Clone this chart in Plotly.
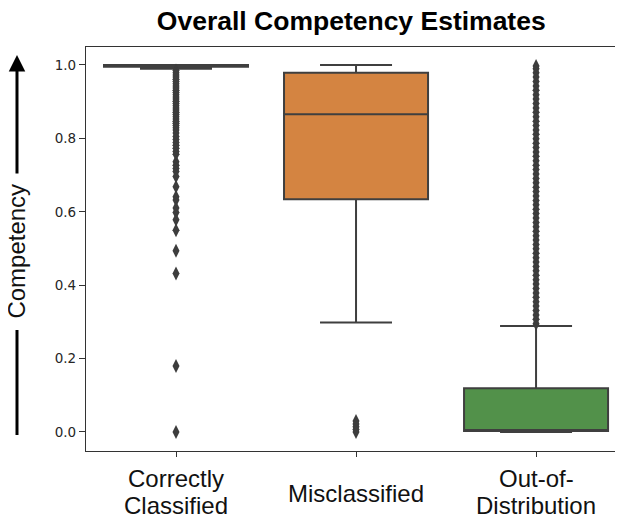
import plotly.graph_objects as go

# ---------------- data ----------------
categories = ["Correctly Classified", "Misclassified", "Out-of-Distribution"]
tick_labels = ["Correctly<br>Classified", "Misclassified", "Out-of-<br>Distribution"]

q1 = [0.995, 0.634, 0.003]
median = [1.0, 0.866, 0.005]
q3 = [1.0, 0.979, 0.119]
lower_whisker = [0.99, 0.298, 0.0]
upper_whisker = [1.0, 1.0, 0.289]

box_colors = ["#3274A1", "#D48441", "#52914A"]

outliers_correct = [0.985, 0.979, 0.973, 0.967, 0.961, 0.955, 0.949, 0.943, 0.937,
                    0.931, 0.925, 0.919, 0.913, 0.907, 0.901, 0.895, 0.889, 0.883,
                    0.877, 0.871, 0.865, 0.859, 0.853, 0.847, 0.841, 0.835, 0.829,
                    0.823, 0.815, 0.805, 0.797, 0.789, 0.781, 0.773, 0.764, 0.757,
                    0.736, 0.727, 0.718, 0.71, 0.696, 0.668, 0.641, 0.632, 0.61,
                    0.598, 0.578, 0.55, 0.494, 0.432, 0.18, 0.0]
outliers_mis = [0.03, 0.022, 0.014, 0.007, 0.0]
outliers_ood = [0.295, 0.307, 0.319, 0.331, 0.343, 0.355, 0.367, 0.379, 0.391,
                0.403, 0.415, 0.427, 0.439, 0.451, 0.463, 0.475, 0.487, 0.499,
                0.511, 0.523, 0.535, 0.547, 0.559, 0.571, 0.583, 0.595, 0.607,
                0.619, 0.631, 0.643, 0.655, 0.667, 0.679, 0.691, 0.703, 0.715,
                0.727, 0.739, 0.751, 0.763, 0.775, 0.787, 0.799, 0.811, 0.823,
                0.835, 0.847, 0.859, 0.871, 0.883, 0.895, 0.907, 0.919, 0.931,
                0.943, 0.955, 0.967, 0.979, 0.99, 0.997]
outliers_all = [outliers_correct, outliers_mis, outliers_ood]

y_ticks = [0.0, 0.2, 0.4, 0.6, 0.8, 1.0]

title_text = "Overall Competency Estimates"
y_label = "Competency"

# ---------------- figure ----------------
LINE = "#3f3f3f"
TEXT_FONT = "Liberation Sans, Arial, sans-serif"

fig = go.Figure()

for i, cat in enumerate(categories):
    fig.add_trace(go.Box(
        x=[cat], q1=[q1[i]], median=[median[i]], q3=[q3[i]],
        lowerfence=[lower_whisker[i]], upperfence=[upper_whisker[i]],
        fillcolor=box_colors[i], line=dict(color=LINE, width=2),
        width=0.8, whiskerwidth=0.5, boxpoints=False,
        showlegend=False, hoverinfo="skip",
    ))

for i, cat in enumerate(categories):
    fig.add_trace(go.Scatter(
        x=[cat] * len(outliers_all[i]), y=outliers_all[i], mode="markers",
        marker=dict(symbol="diamond-tall", size=10, color="#3d3d3d",
                    line=dict(width=0)),
        showlegend=False, hoverinfo="skip",
    ))

# x category labels, one annotation per text line
label_font = dict(family=TEXT_FONT, size=24, color="#111111")
annotations = []
for cat, lab in zip(categories, tick_labels):
    lines = lab.split("<br>")
    if len(lines) == 1:
        ys = [-0.1064]
    else:
        ys = [-0.0693, -0.1361]
    for txt, yy in zip(lines, ys):
        annotations.append(dict(
            x=cat, xref="x", y=yy, yref="paper", text=txt, showarrow=False,
            xanchor="center", yanchor="middle", font=label_font,
        ))

# y label with arrow
AX_X = -0.1285
annotations.append(dict(
    x=AX_X, xref="paper", y=0.496, yref="paper", text=y_label, textangle=-90,
    showarrow=False, xanchor="center", yanchor="middle", font=label_font,
))
annotations.append(dict(
    x=AX_X, xref="paper", y=0.980, yref="paper", text="", showarrow=True,
    ax=0, ay=120, arrowhead=2, arrowsize=1.1, arrowwidth=3, arrowcolor="black",
))

fig.update_layout(
    width=615, height=509,
    margin=dict(l=78, r=0, t=39, b=66),
    paper_bgcolor="white", plot_bgcolor="white",
    title=dict(text="<b>" + title_text + "</b>", x=0.494, xref="paper",
               xanchor="center", y=0.976, yref="container", yanchor="middle",
               font=dict(family=TEXT_FONT, size=26.5, color="black")),
    xaxis=dict(type="category", categoryorder="array", categoryarray=categories,
               range=[-0.5, 2.483], showline=True, mirror=True,
               linecolor="#333333", linewidth=1.25, ticks="outside", ticklen=5,
               tickcolor="#333333", tickwidth=1.25, showticklabels=False,
               showgrid=False, zeroline=False),
    yaxis=dict(range=[-0.0518, 1.049], tickvals=y_ticks, tickformat=".1f",
               ticks="outside", ticklen=6, tickcolor="#333333", tickwidth=1.25,
               tickfont=dict(family="DejaVu Sans", size=13.5, color="#262626"),
               showline=True, mirror=False, linecolor="#333333", linewidth=1.25,
               showgrid=False, zeroline=False),
    annotations=annotations,
    shapes=[dict(type="line", xref="paper", yref="paper", x0=AX_X, x1=AX_X,
                 y0=0.0396, y1=0.2995, line=dict(color="black", width=3))],
)

fig.write_html("out.html", config={"displayModeBar": False})
